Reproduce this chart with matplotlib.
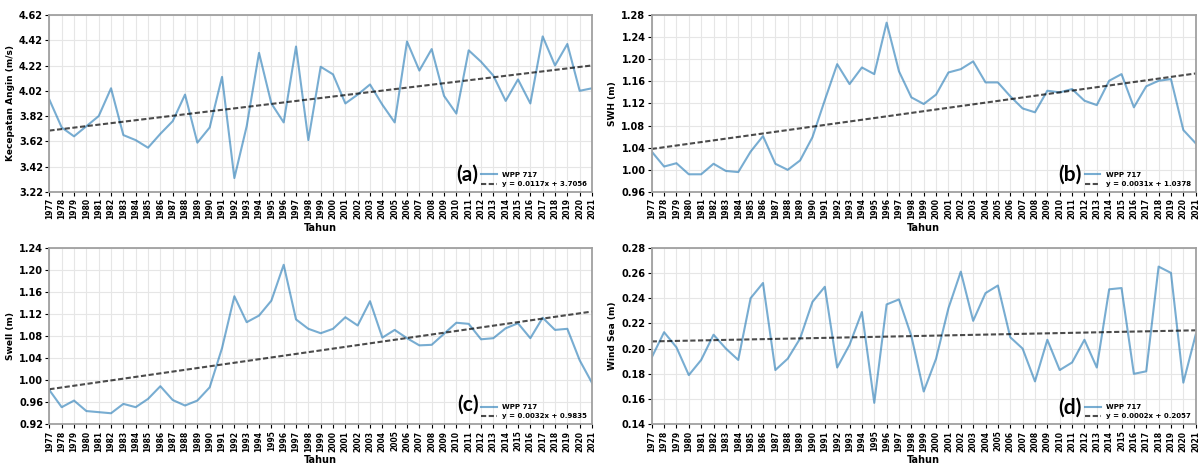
import matplotlib.pyplot as plt
import numpy as np

years = list(range(1977, 2022))

wind = [3.95, 3.73, 3.66, 3.74, 3.82, 4.04, 3.67, 3.63, 3.57, 3.68, 3.78, 3.99, 3.61, 3.73, 4.13,
        3.33, 3.74, 4.32, 3.92, 3.77, 4.37, 3.63, 4.21, 4.15, 3.92, 3.99, 4.07, 3.91, 3.77, 4.41,
        4.18, 4.35, 3.98, 3.84, 4.34, 4.25, 4.14, 3.94, 4.11, 3.92, 4.45, 4.22, 4.39, 4.02, 4.04]

swh = [1.033, 1.006, 1.012, 0.992, 0.992, 1.011, 0.998, 0.996, 1.033, 1.061, 1.011, 1.000, 1.017,
       1.059, 1.126, 1.191, 1.155, 1.185, 1.173, 1.266, 1.178, 1.131, 1.119, 1.136, 1.176, 1.182,
       1.196, 1.158, 1.158, 1.133, 1.111, 1.104, 1.143, 1.140, 1.146, 1.125, 1.117, 1.161, 1.173,
       1.113, 1.151, 1.161, 1.164, 1.072, 1.048]

swell = [0.982, 0.951, 0.963, 0.944, 0.942, 0.940, 0.957, 0.951, 0.966, 0.989, 0.964, 0.954, 0.963,
         0.987, 1.058, 1.152, 1.105, 1.117, 1.144, 1.209, 1.110, 1.093, 1.085, 1.093, 1.114, 1.099,
         1.143, 1.077, 1.091, 1.076, 1.063, 1.064, 1.084, 1.104, 1.102, 1.074, 1.076, 1.094, 1.103,
         1.076, 1.113, 1.091, 1.093, 1.036, 0.995]

windsea = [0.193, 0.213, 0.201, 0.179, 0.191, 0.211, 0.200, 0.191, 0.240, 0.252, 0.183, 0.192,
           0.208, 0.237, 0.249, 0.185, 0.203, 0.229, 0.157, 0.235, 0.239, 0.210, 0.166, 0.192,
           0.232, 0.261, 0.222, 0.244, 0.250, 0.209, 0.200, 0.174, 0.207, 0.183, 0.189, 0.207,
           0.185, 0.247, 0.248, 0.180, 0.182, 0.265, 0.260, 0.173, 0.211]

series = [wind, swh, swell, windsea]
ylabels = ["Kecepatan Angin (m/s)", "SWH (m)", "Swell (m)", "Wind Sea (m)"]
slopes = [0.0117, 0.0031, 0.0032, 0.0002]
intercepts = [3.7056, 1.0378, 0.9835, 0.2057]
panel_tags = ["(a)", "(b)", "(c)", "(d)"]
ylims = [(3.22, 4.62), (0.96, 1.28), (0.92, 1.24), (0.14, 0.28)]
ysteps = [0.2, 0.04, 0.04, 0.02]

fig = plt.figure(figsize=(12.04, 4.66), dpi=100)
positions = [
    [0.041, 0.588, 0.4507, 0.380],
    [0.5413, 0.588, 0.4518, 0.380],
    [0.041, 0.0895, 0.4507, 0.379],
    [0.5413, 0.0895, 0.4518, 0.379],
]
tag_pos = [(0.771, 0.096), (0.769, 0.096), (0.771, 0.109), (0.769, 0.092)]

for i in range(4):
    ax = fig.add_axes(positions[i])
    # trend line from the fitted coefficients, x = year index starting at 0
    x = np.arange(len(years))
    trend = slopes[i] * x + intercepts[i]
    ax.plot(years, series[i], color="#1f77b4", alpha=0.6, lw=1.5, label="WPP 717")
    ax.plot(years, trend, color="black", alpha=0.7, lw=1.5, ls="--", dashes=(2.5, 1.2),
            label=f"y = {slopes[i]:.4f}x + {intercepts[i]:.4f}")
    ax.set_xlim(years[0], years[-1])
    lo, hi = ylims[i]
    ax.set_ylim(lo, hi)
    ticks = np.arange(lo, hi + ysteps[i] / 2, ysteps[i])
    ax.set_yticks(ticks)
    ax.set_yticklabels([f"{t:.2f}" for t in ticks], fontsize=7, fontweight="bold")
    ax.set_xticks(years)
    ax.set_xticklabels([str(y) for y in years], rotation=90, fontsize=5.5, fontweight="bold")
    ax.tick_params(length=3, pad=1.5)
    ax.grid(True, color="#e6e6e6", lw=0.8)
    for s in ax.spines.values():
        s.set_color("#a0a0a0")
        s.set_linewidth(1.3)
    ax.set_ylabel(ylabels[i], fontsize=6.5, fontweight="bold", labelpad=3)
    ax.set_xlabel("Tahun", fontsize=7, fontweight="bold")
    ax.xaxis.set_label_coords(0.5, -0.175)
    ax.legend(loc="lower right", frameon=False, prop={"size": 5, "weight": "bold"},
              handlelength=2.2, borderaxespad=0.3)
    ax.text(tag_pos[i][0], tag_pos[i][1], panel_tags[i], transform=ax.transAxes,
            ha="center", va="center", fontsize=15, fontweight="bold", family="Lato")

plt.savefig("out.png", dpi=100)
